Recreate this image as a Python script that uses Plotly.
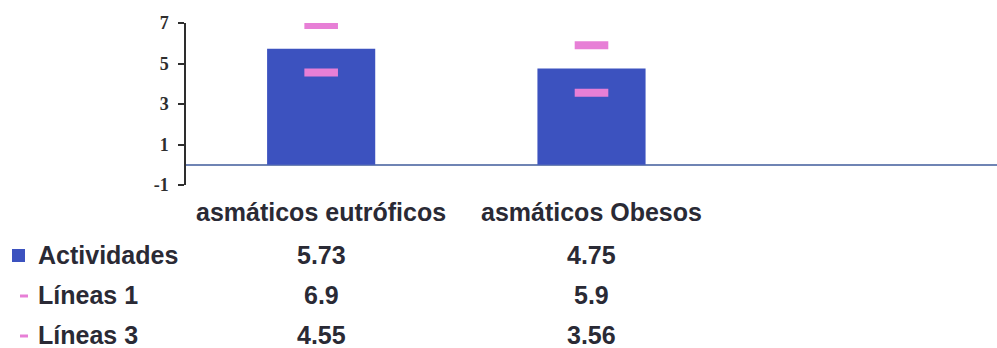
import plotly.graph_objects as go

# Data
categories = ["asmáticos eutróficos", "asmáticos Obesos"]
actividades = [5.73, 4.75]
lineas_1 = [6.9, 5.9]
lineas_3 = [4.55, 3.56]
y_ticks = [-1, 1, 3, 5, 7]

series_names = ["Actividades", "Líneas 1", "Líneas 3"]
series_values = [actividades, lineas_1, lineas_3]

BAR_COLOR = "#3c52bf"
PINK = "#e77fd6"
TEXT = "#2a2a35"

W, H = 997, 348
L, R, T, B = 186, 0, 23, 163
PW, PH = W - L - R, H - T - B


def px_x(px):
    return (px - L) / PW


def px_y(py):
    return (H - B - py) / PH


fig = go.Figure()

fig.add_trace(go.Bar(
    x=categories, y=actividades, name="Actividades",
    marker=dict(color=BAR_COLOR, line=dict(width=0)),
    width=0.4,
))

for name, vals in (("Líneas 1", lineas_1), ("Líneas 3", lineas_3)):
    fig.add_trace(go.Scatter(
        x=categories, y=vals, name=name, mode="markers",
        marker=dict(symbol="line-ew", size=24, color=PINK,
                    line=dict(color=PINK, width=8)),
    ))

table_font = dict(family="Liberation Sans, Arial", size=25, color=TEXT, weight="bold")

annotations = []
# column headers of the data table
for cat in categories:
    annotations.append(dict(
        x=cat, xref="x", y=px_y(212), yref="paper", text=cat,
        showarrow=False, xanchor="center", yanchor="middle", font=table_font,
    ))

row_centers = [255, 295, 335]
for name, vals, cy in zip(series_names, series_values, row_centers):
    annotations.append(dict(
        x=px_x(36), xref="paper", y=px_y(cy), yref="paper", text=name,
        showarrow=False, xanchor="left", yanchor="middle", font=table_font,
    ))
    for cat, v in zip(categories, vals):
        annotations.append(dict(
            x=cat, xref="x", y=px_y(cy), yref="paper", text=f"{v:g}",
            showarrow=False, xanchor="center", yanchor="middle", font=table_font,
        ))

shapes = [
    # legend keys of the data table
    dict(type="rect", xref="paper", yref="paper",
         x0=px_x(12), x1=px_x(25), y0=px_y(262), y1=px_y(249),
         fillcolor=BAR_COLOR, line=dict(width=0)),
    dict(type="line", xref="paper", yref="paper",
         x0=px_x(20), x1=px_x(28), y0=px_y(296), y1=px_y(296),
         line=dict(color=PINK, width=3)),
    dict(type="line", xref="paper", yref="paper",
         x0=px_x(20), x1=px_x(28), y0=px_y(336), y1=px_y(336),
         line=dict(color=PINK, width=3)),
]

fig.update_layout(
    width=W, height=H,
    margin=dict(l=L, r=R, t=T, b=B, pad=0),
    paper_bgcolor="white", plot_bgcolor="white",
    showlegend=False,
    annotations=annotations,
    shapes=shapes,
    xaxis=dict(
        type="category", range=[-0.5, 2.5], showticklabels=False,
        showgrid=False, zeroline=False, showline=False, ticks="",
    ),
    yaxis=dict(
        range=[-1, 7], tickvals=y_ticks, ticktext=[str(t) for t in y_ticks],
        showgrid=False, showline=True, linecolor="#2e2e2e", linewidth=1.5,
        ticks="outside", ticklen=6, tickwidth=1.5, tickcolor="#2e2e2e",
        zeroline=True, zerolinecolor="#6f84b4", zerolinewidth=1.5,
        tickfont=dict(family="Liberation Serif, Times New Roman", size=18,
                      color="#2e2e2e", weight="bold"),
        ticklabelstandoff=6,
    ),
)

fig.write_html("out.html")
